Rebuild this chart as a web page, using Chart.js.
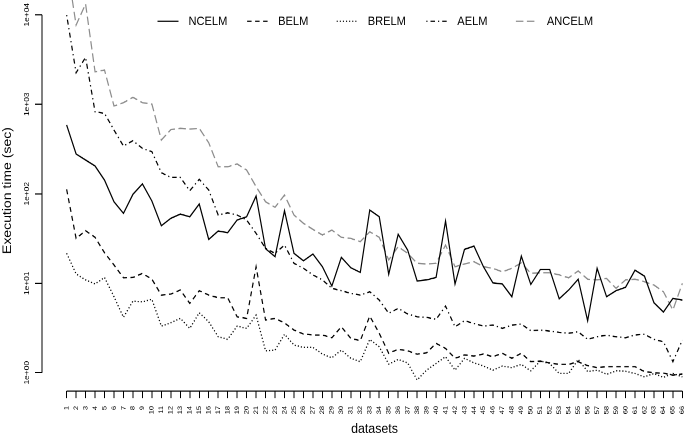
<!DOCTYPE html>
<html>
<head>
<meta charset="utf-8">
<script src="https://cdn.jsdelivr.net/npm/chart.js@4.4.0/dist/chart.umd.min.js"></script>
<style>
    html, body { margin: 0; padding: 0; background: #fff; overflow: hidden; width: 685px; height: 435px; }
    /* la figura original viene estirada en vertical */
    #contenedor { position: absolute; left: 0; top: -10px; width: 730px; height: 396px; transform: scaleY(1.13); transform-origin: 0 0; }
</style>
</head>
<body>
<div id="contenedor"><canvas id="graficoTiempos" width="730" height="396"></canvas></div>
<script>
// Datos
const conjuntos = [1, 2, 3, 4, 5, 6, 7, 8, 9, 10, 11, 12, 13, 14, 15, 16, 17, 18, 19, 20, 21, 22,
    23, 24, 25, 26, 27, 28, 29, 30, 31, 32, 33, 34, 35, 36, 37, 38, 39, 40, 41, 42, 43, 44,
    45, 46, 47, 48, 49, 50, 51, 52, 53, 54, 55, 56, 57, 58, 59, 60, 61, 62, 63, 64, 65, 66];

const ncelm = [586, 278, 238, 204, 142, 81.4, 60.4, 98.5, 129, 82.9, 43.9, 53.1, 59.3, 55.3, 76.7, 30.9,
    38.3, 36.7, 50.9, 55.3, 94.3, 24.3, 19.8, 64.6, 21.6, 17.8, 21.2, 15.3, 9.3, 19.5, 14.9, 13.2,
    65.8, 55.3, 12.6, 35.2, 23.5, 10.6, 10.9, 11.6, 49.5, 9.8, 23.9, 26.0, 15.3, 10.1, 9.8, 7.07,
    20.1, 9.7, 14.2, 14.2, 6.7, 8.4, 11.1, 3.81, 14.7, 7.07, 8.25, 9.0, 14.0, 12.0, 6.06, 4.77, 6.78, 6.49];

const belm = [112, 31.7, 38.6, 32.6, 21.9, 16.0, 11.5, 11.6, 12.9, 11.1, 7.38, 7.57, 8.40, 5.96, 8.25, 7.38,
    6.89, 6.89, 4.22, 4.05, 15.3, 3.88, 4.05, 3.6, 3.0, 2.71, 2.64, 2.64, 2.46, 3.26, 2.42, 2.28,
    4.30, 2.76, 1.65, 1.83, 1.76, 1.61, 1.67, 2.13, 1.87, 1.45, 1.58, 1.54, 1.62, 1.51, 1.65, 1.45,
    1.65, 1.33, 1.35, 1.29, 1.24, 1.24, 1.33, 1.20, 1.14, 1.17, 1.17, 1.17, 1.17, 1.03, 1.0, 0.99, 0.94, 0.97];

const brelm = [21.6, 12.7, 10.9, 9.8, 11.6, 7.07, 4.16, 6.32, 6.21, 6.61, 3.32, 3.62, 4.05, 3.13, 4.68, 3.71,
    2.53, 2.36, 3.32, 3.13, 4.41, 1.76, 1.79, 2.69, 2.04, 1.92, 1.92, 1.62, 1.47, 1.79, 1.45, 1.33,
    2.36, 1.95, 1.25, 1.41, 1.29, 0.83, 1.07, 1.27, 1.51, 1.07, 1.45, 1.29, 1.19, 1.07, 1.19, 1.14,
    1.24, 1.05, 1.35, 1.27, 0.98, 0.98, 1.41, 1.03, 1.07, 0.96, 1.05, 1.04, 0.98, 0.90, 0.98, 0.89, 0.98, 0.90];

const aelm = [9930, 2249, 3342, 824, 791, 515, 341, 391, 322, 295, 172, 152, 152, 108, 145, 110,
    57.8, 61.3, 57.8, 50.9, 36.1, 24.5, 21.6, 26.7, 16.7, 14.7, 12.4, 10.9, 8.77, 8.25, 7.71, 7.38,
    8.04, 6.49, 4.61, 5.24, 4.53, 4.22, 4.16, 3.95, 5.56, 3.26, 3.81, 3.56, 3.32, 3.41, 3.13, 3.41,
    3.50, 2.95, 3.0, 2.92, 2.83, 2.76, 2.87, 2.36, 2.53, 2.62, 2.53, 2.46, 2.64, 2.69, 2.36, 2.22, 1.33, 2.32];

const ancelm = [38000, 7674, 13180, 2307, 2411, 955, 1040, 1194, 1040, 1005, 398, 520, 538, 528, 538, 371,
    200, 200, 215, 184, 120, 81.4, 70.5, 96.7, 57.8, 46.7, 40.0, 34.6, 39.3, 32.6, 31.7, 29.1,
    37.6, 32.6, 18.2, 25.6, 21.6, 16.7, 16.4, 16.7, 26.7, 15.3, 16.4, 17.4, 15.3, 14.7, 13.4, 14.7,
    16.9, 12.9, 13.1, 13.1, 12.4, 11.5, 13.7, 11.1, 10.9, 11.3, 8.77, 10.9, 11.1, 10.4, 9.55, 8.04, 5.02, 9.97];

const ticksY = [1, 10, 100, 1000, 10000];
const etiquetasY = ['1e+00', '1e+01', '1e+02', '1e+03', '1e+04'];

Chart.defaults.font.family = '"Liberation Sans", Arial, sans-serif';
Chart.defaults.color = '#000';

// Función para armar los puntos de una serie
function puntos(valores) {
    return valores.map((v, i) => ({ x: conjuntos[i], y: v }));
}

function serie(nombre, valores, color, guiones) {
    return {
        label: nombre,
        data: puntos(valores),
        borderColor: color,
        backgroundColor: color,
        borderWidth: 1.2,
        borderDash: guiones,
        pointRadius: 0,
        tension: 0,
        fill: false
    };
}

// Ejes al estilo de R: la línea sólo cubre del primer al último tick
const ejesR = {
    id: 'ejesR',
    afterDraw(chart) {
        const ctx = chart.ctx;
        const ex = chart.scales.x;
        const ey = chart.scales.y;
        ctx.save();
        ctx.strokeStyle = '#000';
        ctx.lineWidth = 1;
        ctx.beginPath();
        ctx.moveTo(ey.right, ey.getPixelForValue(ticksY[0]));
        ctx.lineTo(ey.right, ey.getPixelForValue(ticksY[ticksY.length - 1]));
        ctx.moveTo(ex.getPixelForValue(conjuntos[0]), ex.top);
        ctx.lineTo(ex.getPixelForValue(conjuntos[conjuntos.length - 1]), ex.top);
        ctx.stroke();
        ctx.restore();
    }
};

// Leyenda horizontal con separación fija
const leyendaR = {
    id: 'leyendaR',
    afterDraw(chart) {
        const ctx = chart.ctx;
        const yc = 27.7;
        ctx.save();
        ctx.font = '11.1px "Liberation Sans", Arial, sans-serif';
        ctx.textBaseline = 'middle';
        ctx.textAlign = 'left';
        chart.data.datasets.forEach((ds, k) => {
            const x0 = 157.5 + k * 89.6;
            ctx.strokeStyle = ds.borderColor;
            ctx.lineWidth = ds.borderWidth;
            ctx.setLineDash(ds.borderDash);
            ctx.beginPath();
            ctx.moveTo(x0, yc);
            ctx.lineTo(x0 + 21, yc);
            ctx.stroke();
            ctx.setLineDash([]);
            ctx.fillStyle = '#000';
            ctx.fillText(ds.label, x0 + 31, yc);
        });
        ctx.restore();
    }
};

const ctx = document.getElementById('graficoTiempos').getContext('2d');

new Chart(ctx, {
    type: 'line',
    data: {
        datasets: [
            serie('NCELM', ncelm, '#000000', []),
            serie('BELM', belm, '#000000', [4.5, 3.5]),
            serie('BRELM', brelm, '#000000', [1.1, 2]),
            serie('AELM', aelm, '#000000', [1.2, 3, 4.5, 3]),
            serie('ANCELM', ancelm, '#8c8c8c', [7.5, 3.5])
        ]
    },
    options: {
        responsive: false,
        animation: false,
        devicePixelRatio: 2,
        layout: { padding: { left: 0, right: 23, top: 0, bottom: 0 } },
        plugins: {
            legend: { display: false },
            tooltip: { enabled: false },
            title: { display: false }
        },
        scales: {
            x: {
                type: 'linear',
                min: -1.6,
                max: 68.6,
                bounds: 'data',
                afterFit: s => {
                    s.height = 41.1;
                    s.paddingLeft = 0;
                    s.paddingRight = 0;
                },
                afterBuildTicks: s => { s.ticks = conjuntos.map(v => ({ value: v })); },
                ticks: {
                    autoSkip: false,
                    minRotation: 90,
                    maxRotation: 90,
                    padding: 7,
                    font: { size: 6.5 },
                    color: '#000',
                    callback: (v, i) => String(conjuntos[i])
                },
                grid: { drawOnChartArea: false, tickLength: 6.2, color: '#000', lineWidth: 1 },
                border: { display: false },
                title: { display: true, text: 'datasets', font: { size: 12.4 }, color: '#000', padding: 0 }
            },
            y: {
                type: 'logarithmic',
                min: 0.6245,
                max: 18880,
                bounds: 'data',
                afterFit: s => {
                    s.width = 42;
                    s.paddingTop = 0;
                    s.paddingBottom = 0;
                },
                afterBuildTicks: s => { s.ticks = ticksY.map(v => ({ value: v })); },
                ticks: {
                    autoSkip: false,
                    minRotation: 90,
                    maxRotation: 90,
                    crossAlign: 'near',
                    padding: 8,
                    labelOffset: -10.4,
                    font: { size: 7.4 },
                    color: '#000',
                    callback: (v, i) => etiquetasY[i]
                },
                grid: { drawOnChartArea: false, tickLength: 7, color: '#000', lineWidth: 1 },
                border: { display: false },
                title: { display: true, text: 'Execution time (sec)', font: { size: 12.4 }, color: '#000', padding: 0 }
            }
        }
    },
    plugins: [ejesR, leyendaR]
});
</script>
</body>
</html>
